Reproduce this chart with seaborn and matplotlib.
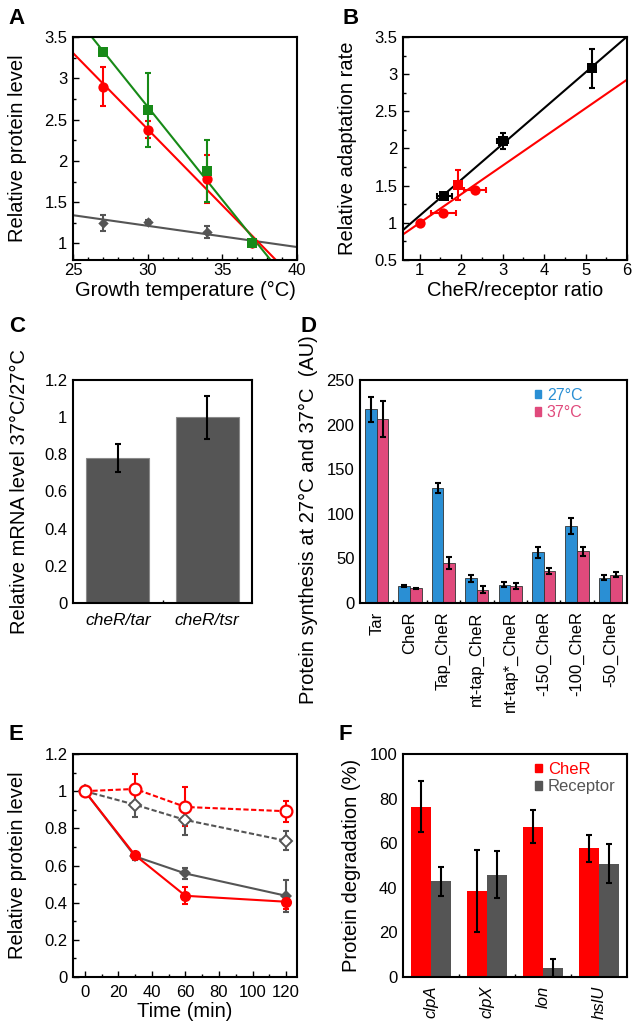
import numpy as np
import pandas as pd
import matplotlib
matplotlib.use("Agg")
import matplotlib.pyplot as plt
from matplotlib.patches import Patch
from matplotlib.ticker import MultipleLocator, FixedLocator
import seaborn as sns

# ---------------- data ----------------
# Panel A
a_temp = [27, 30, 34, 37]
a_green = [3.32, 2.62, 1.88, 1.00]
a_green_err = [0.0, 0.45, 0.375, 0.0]
a_red = [2.90, 2.38, 1.78, 1.00]
a_red_err = [0.24, 0.105, 0.29, 0.0]
a_gray = [1.25, 1.26, 1.14, 1.00]
a_gray_err = [0.10, 0.03, 0.075, 0.0]

# Panel B
b_black_x = [1.60, 3.00, 5.15]
b_black_y = [1.36, 2.10, 3.08]
b_black_xerr = [0.17, 0.13, 0.0]
b_black_yerr = [0.04, 0.11, 0.26]
b_red_x = [1.00, 1.57, 1.92, 2.33]
b_red_y = [1.00, 1.13, 1.51, 1.44]
b_red_xerr = [0.0, 0.30, 0.0, 0.27]
b_red_yerr = [0.0, 0.0, 0.20, 0.0]
b_red_markers = ['o', 'o', 's', 'o']

# Panel C
c_labels = ['cheR/tar', 'cheR/tsr']
c_vals = [0.78, 1.00]
c_err = [0.075, 0.115]

# Panel D
d_labels = ['Tar', 'CheR', 'Tap_CheR', 'nt-tap_CheR', 'nt-tap*_CheR',
            '-150_CheR', '-100_CheR', '-50_CheR']
d_27 = [217, 19, 129, 27.5, 20.5, 57, 86, 28.5]
d_27_err = [14, 1, 6, 3.5, 3, 6, 9, 3]
d_37 = [206, 16.5, 45, 15, 19, 36, 58, 31.5]
d_37_err = [20, 0.8, 6.5, 3.8, 3, 3.2, 5, 2.8]
d_temps = ['27°C', '37°C']

# Panel E
e_time = [0, 30, 60, 120]
e_red_open = [1.0, 1.012, 0.915, 0.892]
e_red_open_err = [0, 0.08, 0.105, 0.056]
e_gray_open = [1.0, 0.927, 0.845, 0.733]
e_gray_open_err = [0, 0.068, 0.083, 0.05]
e_gray_fill = [1.0, 0.649, 0.557, 0.437]
e_gray_fill_err = [0, 0.02, 0.03, 0.085]
e_red_fill = [1.0, 0.655, 0.437, 0.405]
e_red_fill_err = [0, 0.01, 0.045, 0.04]

# Panel F
f_labels = ['clpA', 'clpX', 'lon', 'hslU']
f_cher = [76.4, 38.7, 67.3, 57.8]
f_cher_err = [11.3, 18.3, 7.4, 6.1]
f_rec = [42.9, 45.9, 4.0, 50.8]
f_rec_err = [6.5, 10.5, 4.2, 8.7]
f_series = ['CheR', 'Receptor']

# ---------------- style ----------------
sns.set_theme(style="white")
plt.rcParams['font.family'] = ['Liberation Sans', 'DejaVu Sans']
plt.rcParams.update({
    'axes.edgecolor': 'black', 'axes.linewidth': 1.5,
    'text.color': 'black', 'axes.labelcolor': 'black',
    'xtick.color': 'black', 'ytick.color': 'black',
})

RED = '#ff0000'
GREEN = '#178a17'
GRAY = '#555555'
BLUE = '#2a8fd4'
PINK = '#e04a7c'
TICK_FS = 12
LAB_FS = 14.5

W, H = 640, 1033
fig = plt.figure(figsize=(W / 100, H / 100), dpi=100)


def rect(l, t, r, b):
    return [l / W, 1 - b / H, (r - l) / W, (b - t) / H]


def style_axes(ax, xminor=None, yminor=None, xpad=2.5):
    ax.tick_params(which='both', direction='in', width=1, labelsize=TICK_FS,
                   top=False, right=False, bottom=True, left=True)
    ax.tick_params(which='major', length=4, pad=4)
    ax.tick_params(axis='x', which='major', pad=xpad)
    ax.tick_params(which='minor', length=2.5)
    if xminor:
        ax.xaxis.set_minor_locator(MultipleLocator(xminor))
    if yminor:
        ax.yaxis.set_minor_locator(MultipleLocator(yminor))
    for s in ax.spines.values():
        s.set_visible(True)
        s.set_color('black')
        s.set_linewidth(1.5)


EB = dict(fmt='none', elinewidth=1.5, capsize=2.5, capthick=1.5, zorder=4)

# ---------------- Panel A ----------------
axA = fig.add_axes(rect(73, 37, 297, 260))
axA.set_xlim(25, 40)
axA.set_ylim(0.8, 3.5)
for yv, col in [(a_gray, GRAY), (a_red, RED), (a_green, GREEN)]:
    sns.regplot(x=a_temp, y=yv, ax=axA, scatter=False, ci=None, truncate=False,
                color=col, line_kws=dict(lw=1.5))
for yv, ev, col in [(a_gray, a_gray_err, GRAY), (a_red, a_red_err, RED),
                    (a_green, a_green_err, GREEN)]:
    axA.errorbar(a_temp, yv, yerr=ev, color=col, **EB)
sns.scatterplot(x=a_temp, y=a_gray, ax=axA, marker='D', s=28, color=GRAY,
                linewidth=0, zorder=5)
sns.scatterplot(x=a_temp, y=a_red, ax=axA, marker='o', s=55, color=RED,
                linewidth=0, zorder=5)
sns.scatterplot(x=a_temp, y=a_green, ax=axA, marker='s', s=48, color=GREEN,
                linewidth=0, zorder=6)
axA.set_xlim(25, 40)
axA.set_ylim(0.8, 3.5)
axA.set_xticks([25, 30, 35, 40])
axA.set_yticks([1, 1.5, 2, 2.5, 3, 3.5])
axA.set_yticklabels(['1', '1.5', '2', '2.5', '3', '3.5'])
style_axes(axA, 1, 0.25)
axA.set_xlabel('Growth temperature (°C)', fontsize=LAB_FS)
axA.set_ylabel('Relative protein level', fontsize=LAB_FS)
axA.yaxis.set_label_coords(-0.205, 0.5)
axA.xaxis.set_label_coords(0.5, -0.092)

# ---------------- Panel B ----------------
axB = fig.add_axes(rect(403, 37, 627, 260))
axB.set_xlim(0.6, 6)
axB.set_ylim(0.5, 3.5)
sns.regplot(x=b_red_x, y=b_red_y, ax=axB, scatter=False, ci=None, truncate=False,
            color=RED, line_kws=dict(lw=1.5))
sns.regplot(x=b_black_x, y=b_black_y, ax=axB, scatter=False, ci=None, truncate=False,
            color='black', line_kws=dict(lw=1.5))
axB.errorbar(b_red_x, b_red_y, xerr=b_red_xerr, yerr=b_red_yerr, color=RED, **EB)
axB.errorbar(b_black_x, b_black_y, xerr=b_black_xerr, yerr=b_black_yerr,
             color='black', **EB)
for mk in ['o', 's']:
    xs = [x for x, m in zip(b_red_x, b_red_markers) if m == mk]
    ys = [y for y, m in zip(b_red_y, b_red_markers) if m == mk]
    sns.scatterplot(x=xs, y=ys, ax=axB, marker=mk, s=55 if mk == 'o' else 48,
                    color=RED, linewidth=0, zorder=5)
sns.scatterplot(x=b_black_x, y=b_black_y, ax=axB, marker='s', s=48, color='black',
                linewidth=0, zorder=6)
axB.set_xlim(0.6, 6)
axB.set_ylim(0.5, 3.5)
axB.set_xticks([1, 2, 3, 4, 5, 6])
axB.set_yticks([0.5, 1, 1.5, 2, 2.5, 3, 3.5])
axB.set_yticklabels(['0.5', '1', '1.5', '2', '2.5', '3', '3.5'])
style_axes(axB, 0.5, 0.25)
axB.set_xlabel('CheR/receptor ratio', fontsize=LAB_FS)
axB.set_ylabel('Relative adaptation rate', fontsize=LAB_FS)
axB.yaxis.set_label_coords(-0.205, 0.5)
axB.xaxis.set_label_coords(0.5, -0.094)

# ---------------- Panel C ----------------
axC = fig.add_axes(rect(73, 380, 252, 603))
dfC = pd.DataFrame({'pair': c_labels, 'val': c_vals})
sns.barplot(data=dfC, x='pair', y='val', ax=axC, color=GRAY, width=0.7,
            errorbar=None, edgecolor='#8a8a8a', linewidth=0.8, saturation=1)
cent = [p.get_x() + p.get_width() / 2 for p in axC.patches]
axC.errorbar(cent, c_vals, yerr=c_err, color='black', **EB)
axC.set_xlim(-0.5, 1.5)
axC.set_ylim(0, 1.2)
axC.set_yticks([0, 0.2, 0.4, 0.6, 0.8, 1.0, 1.2])
axC.set_yticklabels(['0', '0.2', '0.4', '0.6', '0.8', '1', '1.2'])
style_axes(axC)
axC.xaxis.set_minor_locator(FixedLocator([0.5]))
axC.tick_params(axis='x', which='major', length=0, pad=7)
axC.tick_params(axis='y', which='major', length=0)
for t in axC.get_xticklabels():
    t.set_fontstyle('italic')
    t.set_fontsize(12.5)
axC.set_xlabel('')
axC.set_ylabel('Relative mRNA level 37°C/27°C', fontsize=LAB_FS)
axC.yaxis.set_label_coords(-0.246, 0.5)

# ---------------- Panel D ----------------
axD = fig.add_axes(rect(360, 380, 627, 603))
dfD = pd.DataFrame({
    'construct': d_labels * 2,
    'temp': [d_temps[0]] * len(d_labels) + [d_temps[1]] * len(d_labels),
    'val': d_27 + d_37,
})
sns.barplot(data=dfD, x='construct', y='val', hue='temp', ax=axD,
            palette=[BLUE, PINK], width=0.7, errorbar=None, edgecolor='#333333',
            linewidth=0.6, saturation=1, legend=False)
for cont, vals, errs in zip(axD.containers, [d_27, d_37], [d_27_err, d_37_err]):
    cx = [b.get_x() + b.get_width() / 2 for b in cont]
    axD.errorbar(cx, vals, yerr=errs, color='black', **EB)
axD.set_xlim(-0.5, 7.5)
axD.set_ylim(0, 250)
axD.set_yticks([0, 50, 100, 150, 200, 250])
style_axes(axD)
axD.xaxis.set_minor_locator(FixedLocator(np.arange(0.5, 7, 1)))
axD.tick_params(axis='x', which='major', length=0, pad=6)
axD.tick_params(axis='y', which='major', length=0)
axD.set_xticks(range(len(d_labels)))
axD.set_xticklabels(d_labels, rotation=90, fontsize=12)
axD.set_xlabel('')
axD.set_ylabel('Protein synthesis at 27°C and 37°C  (AU)', fontsize=LAB_FS)
axD.yaxis.set_label_coords(-0.157, 0.372)
legD = axD.legend(handles=[Patch(color=BLUE), Patch(color=PINK)], labels=d_temps,
                  loc='upper left', bbox_to_anchor=(0.655, 0.965), frameon=False,
                  fontsize=11.5, handlelength=0.4, handleheight=0.4,
                  handletextpad=0.35, labelspacing=0.15, borderpad=0,
                  borderaxespad=0)
for t, c in zip(legD.get_texts(), [BLUE, PINK]):
    t.set_color(c)

# ---------------- Panel E ----------------
axE = fig.add_axes(rect(73, 754, 297, 977))
for ys, es, col in [(e_gray_fill, e_gray_fill_err, GRAY), (e_red_fill, e_red_fill_err, RED),
                    (e_gray_open, e_gray_open_err, GRAY), (e_red_open, e_red_open_err, RED)]:
    axE.errorbar(e_time, ys, yerr=es, color=col, **EB)
DASH = (0, (2.5, 1.2))
sns.lineplot(x=e_time, y=e_gray_fill, ax=axE, color=GRAY, lw=1.5, marker='D',
             markersize=6, markerfacecolor=GRAY, markeredgecolor=GRAY,
             markeredgewidth=0, errorbar=None, zorder=5)
sns.lineplot(x=e_time, y=e_red_fill, ax=axE, color=RED, lw=1.5, marker='o',
             markersize=8, markerfacecolor=RED, markeredgecolor=RED,
             markeredgewidth=0, errorbar=None, zorder=6)
sns.lineplot(x=e_time, y=e_gray_open, ax=axE, color=GRAY, lw=1.5, marker='D',
             markersize=6.5, markerfacecolor='white', markeredgecolor=GRAY,
             markeredgewidth=1.4, linestyle=DASH, errorbar=None, zorder=7)
sns.lineplot(x=e_time, y=e_red_open, ax=axE, color=RED, lw=1.5, marker='o',
             markersize=8.5, markerfacecolor='white', markeredgecolor=RED,
             markeredgewidth=1.6, linestyle=DASH, errorbar=None, zorder=8)
axE.set_xlim(-7, 126.5)
axE.set_ylim(0, 1.2)
axE.set_xticks([0, 20, 40, 60, 80, 100, 120])
axE.set_yticks([0, 0.2, 0.4, 0.6, 0.8, 1.0, 1.2])
axE.set_yticklabels(['0', '0.2', '0.4', '0.6', '0.8', '1', '1.2'])
style_axes(axE, 10, 0.1, xpad=6)
axE.set_xlabel('Time (min)', fontsize=LAB_FS)
axE.set_ylabel('Relative protein level', fontsize=LAB_FS)
axE.yaxis.set_label_coords(-0.205, 0.5)
axE.xaxis.set_label_coords(0.5, -0.11)

# ---------------- Panel F ----------------
axF = fig.add_axes(rect(403, 754, 627, 977))
dfF = pd.DataFrame({
    'gene': f_labels * 2,
    'series': [f_series[0]] * len(f_labels) + [f_series[1]] * len(f_labels),
    'val': f_cher + f_rec,
})
sns.barplot(data=dfF, x='gene', y='val', hue='series', ax=axF,
            palette=[RED, GRAY], width=0.72, errorbar=None, linewidth=0,
            saturation=1, legend=False)
for cont, vals, errs in zip(axF.containers, [f_cher, f_rec], [f_cher_err, f_rec_err]):
    cx = [b.get_x() + b.get_width() / 2 for b in cont]
    axF.errorbar(cx, vals, yerr=errs, color='black', **EB)
axF.set_xlim(-0.5, 3.5)
axF.set_ylim(0, 100)
axF.set_yticks([0, 20, 40, 60, 80, 100])
style_axes(axF)
axF.xaxis.set_minor_locator(FixedLocator([0.5, 1.5, 2.5]))
axF.tick_params(axis='x', which='major', length=0, pad=6)
axF.tick_params(axis='y', which='major', length=0)
axF.set_xticks(range(len(f_labels)))
axF.set_xticklabels(f_labels, rotation=90, fontsize=12, fontstyle='italic')
axF.set_xlabel('')
axF.set_ylabel('Protein degradation (%)', fontsize=LAB_FS)
axF.yaxis.set_label_coords(-0.1875, 0.5)
legF = axF.legend(handles=[Patch(color=RED), Patch(color=GRAY)], labels=f_series,
                  loc='upper left', bbox_to_anchor=(0.59, 0.965), frameon=False,
                  fontsize=12, handlelength=0.4, handleheight=0.4,
                  handletextpad=0.35, labelspacing=0.15, borderpad=0,
                  borderaxespad=0)
for t, c in zip(legF.get_texts(), [RED, GRAY]):
    t.set_color(c)

# ---------------- panel letters ----------------
for letter, x, y in [('A', 8, 8), ('B', 342, 8), ('C', 9, 316), ('D', 300, 316),
                     ('E', 8, 724), ('F', 339, 724)]:
    fig.text(x / W, 1 - y / H, letter, fontsize=16, fontweight='bold',
             ha='left', va='top')

fig.savefig('out.png', dpi=100)
